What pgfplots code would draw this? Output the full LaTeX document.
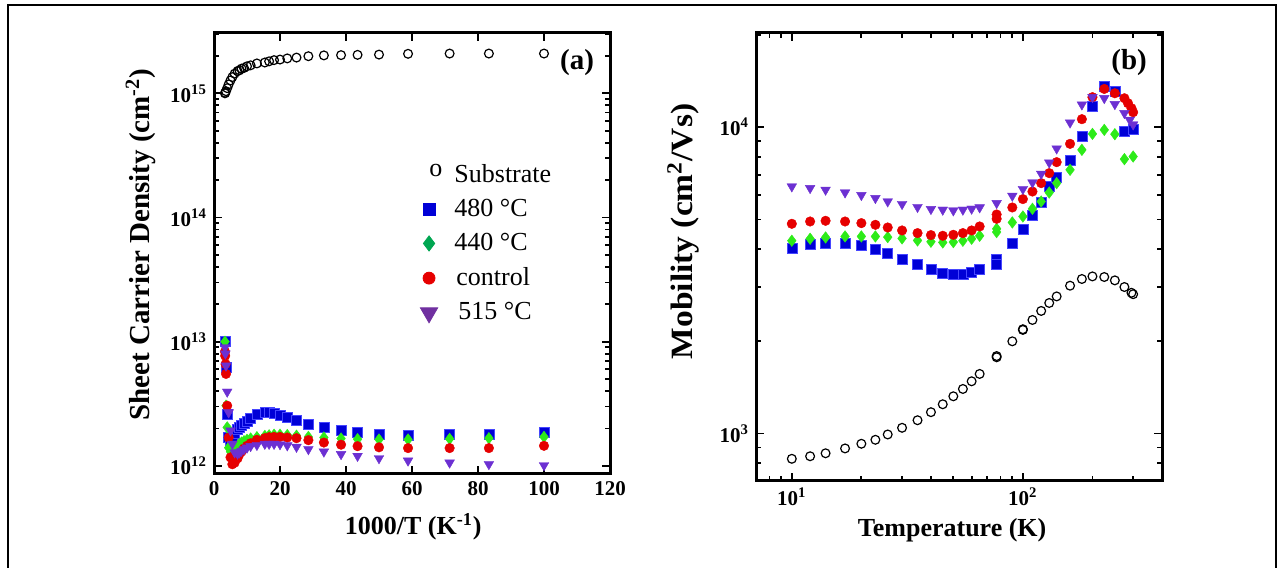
\documentclass[border=0pt]{standalone}
\usepackage{fontspec}
\setmainfont{Liberation Serif}
\usepackage{pgfplots}
\pgfplotsset{compat=1.18}
\definecolor{cblue}{RGB}{0,0,215}
\definecolor{cblueE}{RGB}{70,70,255}
\definecolor{cgreen}{RGB}{45,235,25}
\definecolor{cred}{RGB}{230,0,0}
\definecolor{cpurple}{RGB}{108,48,210}
\definecolor{lgreen}{RGB}{0,166,81}
\definecolor{lpurple}{RGB}{112,48,160}
\newcommand{\tl}[1]{\textbf{10}\textsuperscript{\textbf{#1}}}
\pgfplotsset{
  myax/.style={
    scale only axis,
    axis line style={line width=1.5pt},
    every tick/.style={line width=0.9pt,black},
    major tick length=4pt, minor tick length=2.5pt,
    tick align=inside, xtick pos=both, ytick pos=both,
    tick label style={font=\fontsize{10.5}{12}\selectfont\bfseries},
    /pgf/number format/assume math mode=true,
  },
  sub/.style={only marks, mark=o, mark size=2.2pt, black, mark options={line width=0.6pt}},
  s480/.style={only marks, mark=square*, mark size=2.5pt, mark options={fill=cblue, draw=cblueE, line width=0.3pt}},
  s440/.style={only marks, mark=diamond*, mark size=2.9pt, mark options={fill=cgreen, draw=cgreen, line width=0.2pt}},
  sctl/.style={only marks, mark=*, mark size=2.4pt, mark options={fill=cred, draw=cred, line width=0.2pt}},
  s515/.style={only marks, mark=triangle*, mark size=2.8pt, mark options={fill=cpurple, draw=cpurple, rotate=180, line width=0.2pt}},
}
\begin{document}
\begin{tikzpicture}
\useasboundingbox (0,0) rectangle (644pt,283.5pt);
\draw[line width=1pt] (4pt,-2pt) -- (4pt,281pt) -- (638pt,281pt) -- (638pt,-2pt);
% ---------------- panel (a)
\begin{axis}[myax,
  at={(107pt,46.5pt)}, anchor=south west,
  width=198pt, height=220.5pt,
  xmin=0, xmax=120, ymode=log, ymin=8.6e11, ymax=3.06e15,
  xtick={0,20,...,120},
  ytick={1e12,1e13,1e14,1e15},
  yticklabels={\tl{12},\tl{13},\tl{14},\tl{15}},
  minor ytick={2e12,3e12,4e12,5e12,6e12,7e12,8e12,9e12,2e13,3e13,4e13,5e13,6e13,7e13,8e13,9e13,2e14,3e14,4e14,5e14,6e14,7e14,8e14,9e14,2e15,3e15},
  xlabel={\textbf{1000/T (K\textsuperscript{-1})}},
  xlabel style={font=\fontsize{13}{15}\selectfont, at={(axis description cs:0.503,-0.12)}, anchor=center},
  ylabel={\textbf{Sheet Carrier Density (cm\textsuperscript{-2})}},
  ylabel style={font=\fontsize{14.5}{17}\selectfont, at={(axis description cs:-0.185,0.52)}, anchor=center},
  legend style={draw=none, fill=none, at={(axis description cs:0.505,0.722)}, anchor=north west,
    font=\fontsize{13}{15}\selectfont, row sep=3pt},
  legend cell align=left,
]
\addplot[sub, forget plot] coordinates {
(100,2.09e15) (83.3,2.09e15) (71.4,2.09e15) (58.8,2.08e15) (50,2.05e15) (43.5,2.04e15)
(38.5,2.03e15) (33.3,2.02e15) (28.6,1.99e15) (25,1.94e15) (22.2,1.91e15) (20,1.87e15)
(18.2,1.85e15) (16.7,1.81e15) (15.4,1.77e15) (13,1.74e15) (11.1,1.68e15) (10,1.65e15)
(9.09,1.60e15) (8.33,1.58e15) (7.69,1.53e15) (7.14,1.51e15) (6.25,1.44e15) (5.56,1.35e15)
(5,1.27e15) (4.44,1.18e15) (4,1.10e15) (3.64,1.04e15) (3.39,1.01e15) (3.33,1.0e15)};
\addplot[s480, forget plot] coordinates {
(3.33,1.0e13) (3.64,6.2e12) (4,2.6e12) (4.44,1.7e12) (5,1.6e12) (5.56,1.65e12)
(6.25,1.82e12) (7.14,1.97e12) (7.69,2.04e12) (8.33,2.12e12) (9.09,2.2e12) (10,2.3e12)
(11.1,2.42e12) (13,2.6e12) (13,2.58e12) (15.4,2.69e12) (16.7,2.69e12) (18.2,2.64e12)
(20,2.57e12) (22.2,2.45e12) (25,2.33e12) (28.6,2.17e12) (33.3,2.06e12) (38.5,1.94e12)
(43.5,1.86e12) (50,1.80e12) (58.8,1.75e12) (71.4,1.78e12) (83.3,1.78e12) (100,1.86e12)};
\addplot[s440, forget plot] coordinates {
(3.33,1.0e13) (3.64,3.05e12) (4,2.04e12) (4.44,1.4e12) (5,1.3e12) (5.56,1.33e12)
(6.25,1.38e12) (7.14,1.45e12) (7.69,1.5e12) (8.33,1.54e12) (9.09,1.58e12) (10,1.62e12)
(11.1,1.66e12) (13,1.70e12) (13,1.68e12) (15.4,1.74e12) (16.7,1.76e12) (18.2,1.78e12)
(20,1.78e12) (22.2,1.77e12) (25,1.75e12) (28.6,1.71e12) (33.3,1.69e12) (38.5,1.66e12)
(43.5,1.64e12) (50,1.63e12) (58.8,1.63e12) (71.4,1.65e12) (83.3,1.67e12) (100,1.71e12)};
\addplot[sctl, forget plot] coordinates {
(3.33,8.3e12) (3.39,7.7e12) (3.51,6.6e12) (3.64,5.5e12) (4,3.05e12) (4.44,1.69e12)
(5,1.17e12) (5.56,1.03e12) (6.25,1.06e12) (7.14,1.15e12) (7.69,1.24e12) (8.33,1.3e12)
(9.09,1.38e12) (10,1.45e12) (11.1,1.52e12) (13,1.62e12) (13,1.60e12) (15.4,1.67e12)
(16.7,1.70e12) (18.2,1.71e12) (20,1.71e12) (22.2,1.69e12) (25,1.67e12) (28.6,1.61e12)
(33.3,1.54e12) (38.5,1.48e12) (43.5,1.44e12) (50,1.41e12) (58.8,1.39e12) (71.4,1.39e12)
(83.3,1.39e12) (100,1.45e12)};
\addplot[s515, forget plot] coordinates {
(3.33,9.0e12) (3.45,8.0e12) (3.64,6.4e12) (4,3.95e12) (4.44,2.69e12) (5,1.92e12)
(5.56,1.5e12) (6.25,1.28e12) (7.14,1.25e12) (7.69,1.28e12) (8.33,1.32e12) (9.09,1.36e12)
(10,1.4e12) (11.1,1.44e12) (13,1.47e12) (15.4,1.5e12) (16.7,1.5e12) (18.2,1.5e12)
(20,1.49e12) (22.2,1.46e12) (25,1.42e12) (28.6,1.36e12) (33.3,1.30e12) (38.5,1.24e12)
(43.5,1.20e12) (50,1.15e12) (58.8,1.10e12) (71.4,1.06e12) (83.3,1.03e12) (100,1.01e12)};
\addlegendimage{legend image code/.code={\node[inner sep=0pt, font=\fontsize{13}{15}\selectfont] at (0.3cm,0.04cm) {o};}}
\addlegendentry{\kern4pt Substrate}
\addlegendimage{only marks, mark=square*, mark size=3pt, cblue}
\addlegendentry{\kern4pt 480 °C}
\addlegendimage{only marks, mark=diamond*, mark size=3.8pt, lgreen}
\addlegendentry{\kern4pt 440 °C}
\addlegendimage{only marks, mark=*, mark size=3pt, cred}
\addlegendentry{\kern5pt control}
\addlegendimage{only marks, mark=triangle*, mark size=5pt, mark options={rotate=180}, lpurple}
\addlegendentry{\kern6pt 515 °C}
\node[font=\fontsize{14.5}{17}\selectfont\bfseries] at (axis description cs:0.917,0.934) {(a)};
\end{axis}
% ---------------- panel (b)
\begin{axis}[myax,
  at={(378pt,43pt)}, anchor=south west,
  width=203pt, height=224pt,
  xmode=log, ymode=log, xmin=7, xmax=400, ymin=700, ymax=2.03e4,
  xtick={10,100}, xticklabels={\tl{1},\tl{2}},
  minor xtick={7,8,9,20,30,40,50,60,70,80,90,200,300,400},
  ytick={1000,10000}, yticklabels={\tl{3},\tl{4}},
  minor ytick={700,800,900,2000,3000,4000,5000,6000,7000,8000,9000,20000},
  xlabel={\textbf{Temperature (K)}},
  xlabel style={font=\fontsize{13}{15}\selectfont, at={(axis description cs:0.483,-0.11)}, anchor=center},
  ylabel={\scalebox{1.08}[1]{\textbf{Mobility (cm\textsuperscript{2}/Vs)}}},
  ylabel style={font=\fontsize{15.5}{18}\selectfont, at={(axis description cs:-0.18,0.557)}, anchor=center},
]
\addplot[sub] coordinates {
(10,827) (12,843) (14,862) (17,894) (20,926) (23,954) (26,993) (30,1044) (35,1105)
(40,1174) (45,1246) (50,1323) (55,1398) (60,1481) (65,1565) (77,1774) (77,1790)
(90,2000) (100,2179) (100,2190) (110,2348) (120,2513) (130,2668) (140,2803) (160,3038)
(180,3195) (200,3258) (225,3243) (250,3162) (275,3008) (295,2880) (300,2850)};
\addplot[s480] coordinates {
(10,4030) (12,4133) (14,4185) (17,4185) (20,4102) (23,3981) (26,3863) (30,3711) (35,3556)
(40,3425) (45,3341) (50,3299) (55,3299) (60,3357) (65,3425) (77,3692) (77,3575) (90,4164)
(100,4650) (110,5150) (120,5694) (130,6403) (140,6871) (160,7784) (180,9368) (200,11675)
(225,13563) (250,13067) (275,9676) (300,9851)};
\addplot[s440] coordinates {
(10,4259) (12,4323) (14,4366) (17,4399) (20,4399) (23,4399) (26,4377) (30,4334) (35,4269)
(40,4227) (45,4205) (50,4216) (55,4259) (60,4323) (65,4421) (77,4660) (77,4546) (90,4887)
(100,5111) (110,5415) (120,5720) (130,6120) (140,6567) (160,7257) (180,8433) (200,9510)
(225,9800) (250,9485) (275,7865) (300,8020)};
\addplot[sctl] coordinates {
(10,4838) (12,4922) (14,4948) (17,4922) (20,4862) (23,4801) (26,4705) (30,4601) (35,4511)
(40,4444) (45,4421) (50,4454) (55,4511) (60,4601) (65,4742) (77,5023) (77,5188) (90,5469)
(100,5825) (110,6166) (120,6567) (130,7079) (140,7690) (160,8823) (180,10620) (200,12530)
(225,13330) (250,12905) (275,12430) (285,11975) (295,11530) (300,11190)};
\addplot[s515] coordinates {
(10,6403) (12,6325) (14,6245) (17,6120) (20,6001) (23,5868) (26,5720) (30,5610) (35,5485)
(40,5402) (45,5375) (50,5346) (55,5375) (60,5415) (65,5469) (77,5650) (90,5970) (100,6280)
(110,6597) (120,7040) (130,7665) (140,8516) (160,10350) (180,11850) (200,12530) (225,12435)
(250,11885) (275,11110) (290,10560) (300,10200)};
\node[font=\fontsize{14.5}{17}\selectfont\bfseries] at (axis description cs:0.919,0.935) {(b)};
\end{axis}
\end{tikzpicture}
\end{document}
